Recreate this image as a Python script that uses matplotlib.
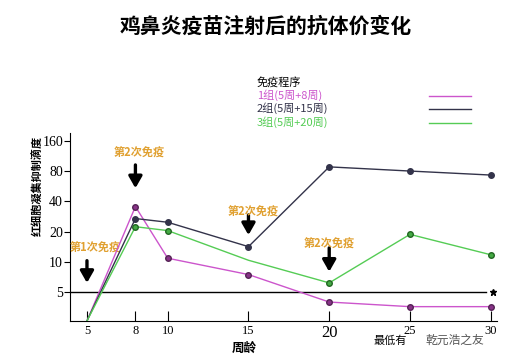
import matplotlib.pyplot as plt
from matplotlib.lines import Line2D

plt.rcParams['font.family'] = ['Noto Sans CJK SC', 'DejaVu Sans']

# ===================== 数据 =====================
weeks = [5, 8, 10, 15, 20, 25, 30]
group1 = [2.6, 35.5, 10.9, 7.5, 4.0, 3.6, 3.6]      # 1组(5周+8周)
group2 = [2.6, 27.0, 24.8, 14.2, 88.0, 80.0, 73.0]  # 2组(5周+15周)
group3 = [2.6, 22.4, 20.5, 10.4, 6.2, 18.8, 11.8]   # 3组(5周+20周)
labels = ['1组(5周+8周)', '2组(5周+15周)', '3组(5周+20周)']
min_titer = 5
y_ticks = [5, 10, 20, 40, 80, 160]
x_ticks = [5, 8, 10, 15, 20, 25, 30]
# 免疫时间点（箭头）
shot_weeks = [5, 8, 15, 20]
shot_texts = ['第1次免疫', '第2次免疫', '第2次免疫', '第2次免疫']

c1, c2, c3 = '#cc55cc', '#33334a', '#55cc55'
m1, m2, m3 = '#883388', '#33334a', '#44aa44'
gold = '#e0a030'

fig = plt.figure(figsize=(5.32, 3.61), dpi=100)
ax = fig.add_axes([0.1316, 0.1116, 0.802, 0.52])

ax.plot(weeks, group1, color=c1, lw=1, marker='o', ms=4, mfc=m1, mec='#552255',
        markevery=[1, 2, 3, 4, 5, 6], zorder=4)
ax.plot(weeks, group2, color=c2, lw=1, marker='o', ms=4, mfc=m2, mec=m2,
        markevery=[1, 2, 3, 4, 5, 6], zorder=4)
ax.plot(weeks, group3, color=c3, lw=1, marker='o', ms=4, mfc=m3, mec='#226622',
        markevery=[1, 2, 4, 5, 6], zorder=4)

# 最低有效滴度线
ax.plot([3.95, 29.7], [min_titer, min_titer], color='black', lw=1, zorder=3)
ax.plot([30.12], [min_titer], marker='*', color='black', ms=5, clip_on=False)

ax.set_yscale('log', base=2)
ax.set_ylim(2.61, 191)
ax.set_xlim(3.95, 30.37)
ax.set_yticks(y_ticks)
ax.set_yticklabels([str(v) for v in y_ticks], family='Liberation Serif', fontsize=10)
ax.minorticks_off()
ax.set_xticks(x_ticks)
ax.set_xticklabels([str(v) for v in x_ticks], family='Liberation Serif', fontsize=9)
for t in ax.get_xticklabels():
    if t.get_text() == '20':
        t.set_fontsize(12)
ax.tick_params(axis='x', direction='in', length=7, pad=3, width=0.8)
ax.tick_params(axis='y', direction='out', length=4, pad=1, width=0.8)
ax.spines['top'].set_visible(False)
ax.spines['right'].set_visible(False)

# 免疫箭头（起点/终点滴度）与文字位置
arrow_top = [10.3, 92, 29.3, 13.8]
arrow_tip = [6.2, 54, 18.5, 8.0]
text_xy = [(5.5, 13.8), (8.22, 121), (15.3, 31.4), (19.98, 15.1)]
for x, y0, y1, (tx, ty), txt in zip(shot_weeks, arrow_top, arrow_tip, text_xy, shot_texts):
    ax.annotate('', xy=(x, y1), xytext=(x, y0),
                arrowprops=dict(arrowstyle='-|>,head_width=0.4,head_length=0.7',
                                color='black', lw=2.4, shrinkA=0, shrinkB=0))
    ax.text(tx, ty, txt, color=gold, fontsize=8, fontweight='bold',
            ha='center', va='center', clip_on=False)

# 图例（手工绘制：文字左对齐，线段在右侧）
W, H = 532, 361
fig.text(257 / W, 1 - 82 / H, '免疫程序', ha='left', va='center', fontsize=8)
for lab, c, yp in zip(labels, (c1, c2, c3), (95, 108.5, 122)):
    fig.text(257 / W, 1 - yp / H, lab, ha='left', va='center', fontsize=8, color=c)
    fig.add_artist(Line2D([429 / W, 471 / W], [1 - (yp + 0.5) / H] * 2, color=c, lw=1))

fig.text(0.5, 0.928, '鸡鼻炎疫苗注射后的抗体价变化', ha='center', va='center',
         fontsize=15, fontweight='bold')
fig.text(0.071, 0.485, '红细胞凝集抑制滴度', rotation=90, ha='center', va='center',
         fontsize=8, fontweight='bold')
fig.text(0.46, 0.036, '周龄', ha='center', va='center', fontsize=9, fontweight='bold')
fig.text(0.703, 0.057, '最低有', ha='left', va='center', fontsize=8)
fig.text(0.80, 0.057, '乾元浩之友', ha='left', va='center', fontsize=8.5, color='#555555')

fig.savefig('out.png', dpi=100)
